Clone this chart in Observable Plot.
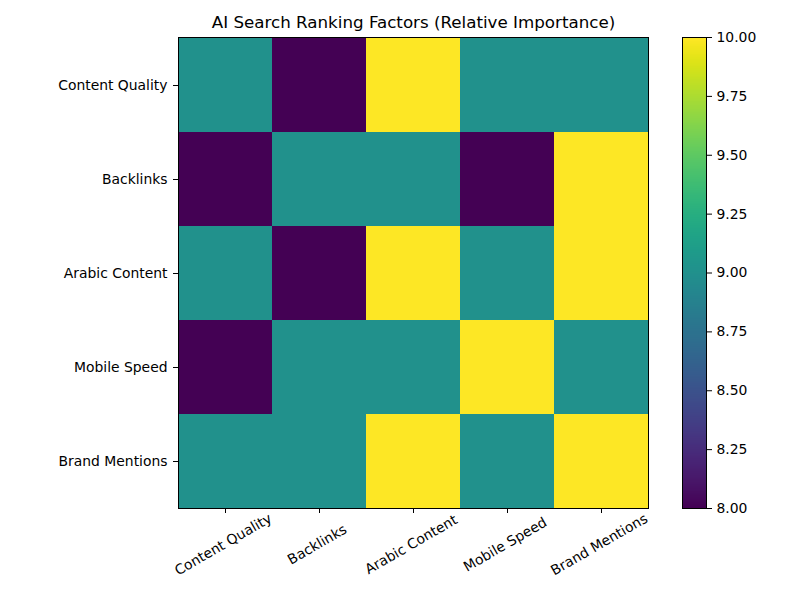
<!DOCTYPE html>
<html><head><meta charset="utf-8">
<script src="https://cdn.jsdelivr.net/npm/d3@7"></script>
<script src="https://cdn.jsdelivr.net/npm/@observablehq/plot@0.6"></script>
<style>
body{margin:0;background:#fff}
#wrap{position:relative;width:800px;height:600px;background:#fff}
#wrap svg{position:absolute;top:0;background:transparent}
</style>
</head><body><div id="wrap"></div>
<script>
const factors = ["Content Quality","Backlinks","Arabic Content","Mobile Speed","Brand Mentions"];
const rowContentQuality = [9, 8, 10, 9, 9];
const rowBacklinks      = [8, 9, 9, 8, 10];
const rowArabicContent  = [9, 8, 10, 9, 10];
const rowMobileSpeed    = [8, 9, 9, 10, 9];
const rowBrandMentions  = [9, 9, 10, 9, 10];
const colorTicks = [8.00, 8.25, 8.50, 8.75, 9.00, 9.25, 9.50, 9.75, 10.00];
const title = "AI Search Ranking Factors (Relative Importance)";

const matrix = [rowContentQuality, rowBacklinks, rowArabicContent, rowMobileSpeed, rowBrandMentions];
const cells = factors.flatMap((r, i) => factors.map((c, j) => ({row: r, col: c, value: matrix[i][j]})));
const colorScale = {type: "linear", scheme: "viridis", domain: [8, 10]};
const font = "'DejaVu Sans', sans-serif";

const main = Plot.plot({
  width: 800, height: 600,
  marginLeft: 178, marginRight: 152, marginTop: 37, marginBottom: 92,
  style: {fontFamily: font, fontSize: "13.9px", color: "black", background: "transparent"},
  x: {domain: factors, padding: 0, label: null},
  y: {domain: factors, padding: 0, label: null},
  color: colorScale,
  marks: [
    Plot.cell(cells, {x: "col", y: "row", fill: "value", inset: 0}),
    Plot.frame({stroke: "black", strokeWidth: 1}),
    Plot.axisY({tickSize: 5, tickPadding: 6, label: null, fontSize: 13.9, stroke: "black"}),
    Plot.axisX({tickSize: 5, tickFormat: () => "", label: null, stroke: "black"}),
    Plot.text(factors, {x: d => d, frameAnchor: "bottom", dy: 40, rotate: -30, fontSize: 13.9, fill: "black"}),
    Plot.text([title], {frameAnchor: "top", lineAnchor: "middle", dy: -15, fontSize: 16.7, fill: "black"})
  ]
});
main.style.left = "0px";

const bar = Plot.plot({
  width: 118, height: 600,
  marginLeft: 0, marginRight: 94, marginTop: 37, marginBottom: 92,
  style: {fontFamily: font, fontSize: "13.9px", color: "black", background: "transparent"},
  x: {domain: [0, 1], axis: null},
  y: {domain: [8, 10], label: null, axis: null},
  color: colorScale,
  marks: [
    Plot.raster({fill: (x, y) => y, x1: 0, x2: 1, y1: 8, y2: 10, width: 2, height: 471, imageRendering: "auto"}),
    Plot.frame({stroke: "black", strokeWidth: 1}),
    Plot.axisY(colorTicks, {anchor: "right", tickSize: 5, tickPadding: 5, tickFormat: d3.format(".2f"), label: null, fontSize: 13.9, stroke: "black"})
  ]
});
bar.style.left = "682px";

const wrap = document.getElementById("wrap");
wrap.appendChild(main);
wrap.appendChild(bar);
</script>
</body></html>
